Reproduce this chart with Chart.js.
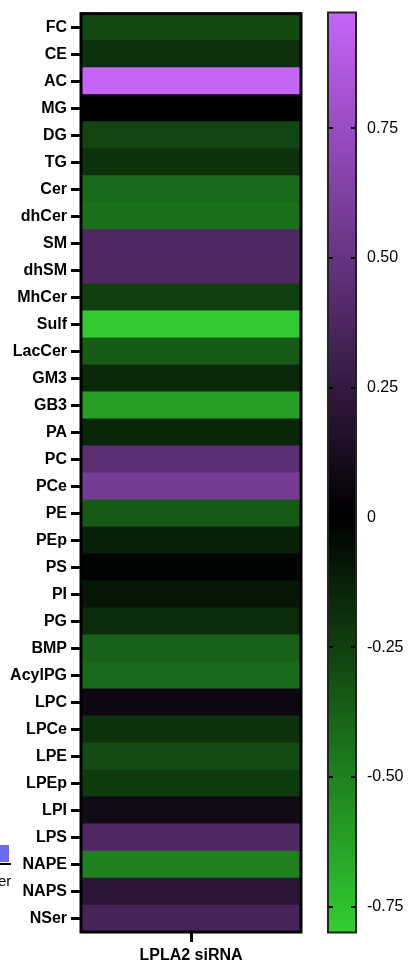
<!DOCTYPE html>
<html>
<head>
<meta charset="utf-8">
<script src="https://cdn.jsdelivr.net/npm/chart.js@4.4.1/dist/chart.umd.min.js"></script>
<style>
  html, body { margin: 0; padding: 0; background: #fff; }
  #wrap { position: relative; width: 411px; height: 961px; overflow: hidden; }
  canvas { position: absolute; top: 0; }
  #heat { left: 0; }
  #bar { left: 305px; }
  .art { position: absolute; font-family: "Liberation Sans", Arial, sans-serif; }
</style>
</head>
<body>
<div id="wrap">
  <canvas id="heat" width="305" height="961"></canvas>
  <canvas id="bar" width="106" height="961"></canvas>
  <div class="art" style="left:0;top:845px;width:9px;height:17px;background:#6b6bf2;"></div>
  <div class="art" style="left:0;top:863px;width:11px;height:2px;background:#000;"></div>
  <div class="art" style="left:-2px;top:872px;font-size:15px;color:#000;">er</div>
</div>
<script>
// ---- data ----
const rowLabels = ['FC','CE','AC','MG','DG','TG','Cer','dhCer','SM','dhSM','MhCer','Sulf','LacCer','GM3','GB3','PA','PC','PCe','PE','PEp','PS','PI','PG','BMP','AcylPG','LPC','LPCe','LPE','LPEp','LPI','LPS','NAPE','NAPS','NSer'];
const values = [-0.29,-0.19,0.97,0.0,-0.27,-0.20,-0.41,-0.44,0.39,0.39,-0.25,-0.79,-0.36,-0.16,-0.62,-0.15,0.45,0.58,-0.35,-0.13,-0.02,-0.09,-0.17,-0.38,-0.41,0.07,-0.20,-0.30,-0.23,0.095,0.39,-0.50,0.21,0.35];
const columnLabel = 'LPLA2 siRNA';
const colorMin = -0.80;
const colorMax = 0.973;
const colorTicks = [0.75, 0.50, 0.25, 0, -0.25, -0.50, -0.75];

const lowRGB = [50, 205, 50];
const highRGB = [198, 100, 250];
function colorFor(v) {
  let c, t;
  if (v < 0) { t = Math.min(1, v / colorMin); c = lowRGB; }
  else { t = Math.min(1, v / colorMax); c = highRGB; }
  return 'rgb(' + c.map(x => Math.round(x * t)).join(',') + ')';
}

const boldFont = { family: '"Liberation Sans", Arial, sans-serif', size: 16, weight: 'bold' };
const normFont = { family: '"Liberation Sans", Arial, sans-serif', size: 16, weight: 'normal' };

const framePlugin = {
  id: 'frame',
  afterDatasetsDraw(chart, args, opts) {
    const ca = chart.chartArea, ctx = chart.ctx;
    ctx.save();
    ctx.strokeStyle = opts.color || '#000';
    ctx.lineWidth = opts.width || 3;
    ctx.strokeRect(ca.left, ca.top, ca.right - ca.left, ca.bottom - ca.top);
    ctx.restore();
  }
};

new Chart(document.getElementById('heat'), {
  type: 'bar',
  data: {
    labels: rowLabels,
    datasets: [{
      data: values.map(() => [0, 1]),
      backgroundColor: values.map(colorFor),
      borderWidth: 0,
      barPercentage: 1,
      categoryPercentage: 1,
      borderSkipped: false
    }]
  },
  options: {
    indexAxis: 'y',
    responsive: false,
    animation: false,
    devicePixelRatio: 1,
    layout: { padding: { top: 12, left: 0, right: 4, bottom: 0 } },
    plugins: { legend: { display: false }, tooltip: { enabled: false }, frame: { color: '#000', width: 3 } },
    scales: {
      y: {
        type: 'category',
        grid: { offset: false, drawOnChartArea: false, tickLength: 10, tickWidth: 3, tickColor: '#000' },
        border: { display: false },
        ticks: { color: '#000', font: boldFont, padding: 4, autoSkip: false },
        afterFit(s) { s.width = 81; }
      },
      x: {
        type: 'linear',
        min: 0, max: 1,
        afterBuildTicks(s) { s.ticks = [{ value: 0.5 }]; },
        grid: { drawOnChartArea: false, tickLength: 10, tickWidth: 3, tickColor: '#000' },
        border: { display: false },
        ticks: { color: '#000', font: boldFont, padding: 4, maxRotation: 0, callback: () => columnLabel },
        afterFit(s) { s.height = 29; }
      }
    }
  },
  plugins: [framePlugin]
});

const innerTicks = {
  id: 'innerTicks',
  afterDatasetsDraw(chart) {
    const ca = chart.chartArea, ctx = chart.ctx, ys = chart.scales.y;
    ctx.save();
    ctx.strokeStyle = '#000';
    ctx.lineWidth = 2;
    colorTicks.forEach(v => {
      const y = Math.round(ys.getPixelForValue(v));
      ctx.beginPath();
      ctx.moveTo(ca.left, y); ctx.lineTo(ca.left + 5, y);
      ctx.moveTo(ca.right - 5, y); ctx.lineTo(ca.right, y);
      ctx.stroke();
    });
    ctx.restore();
  }
};

new Chart(document.getElementById('bar'), {
  type: 'bar',
  data: {
    labels: ['scale'],
    datasets: [{
      data: [[colorMin, colorMax]],
      borderWidth: 0,
      barPercentage: 1,
      categoryPercentage: 1,
      borderSkipped: false,
      backgroundColor(ctx) {
        const chart = ctx.chart;
        if (!chart.chartArea) return '#000';
        const ys = chart.scales.y;
        const y0 = ys.getPixelForValue(colorMin), y1 = ys.getPixelForValue(colorMax);
        const g = chart.ctx.createLinearGradient(0, y0, 0, y1);
        g.addColorStop(0, colorFor(colorMin));
        g.addColorStop((0 - colorMin) / (colorMax - colorMin), 'rgb(0,0,0)');
        g.addColorStop(1, colorFor(colorMax));
        return g;
      }
    }]
  },
  options: {
    responsive: false,
    animation: false,
    devicePixelRatio: 1,
    layout: { padding: { top: 12.5, left: 23, right: 0, bottom: 28.5 } },
    plugins: { legend: { display: false }, tooltip: { enabled: false }, frame: { color: '#222', width: 2 } },
    scales: {
      x: { display: false },
      y: {
        type: 'linear',
        position: 'right',
        min: colorMin, max: colorMax,
        afterBuildTicks(s) { s.ticks = colorTicks.map(v => ({ value: v })); },
        grid: { display: false, drawTicks: false },
        border: { display: false },
        ticks: { color: '#000', font: normFont, padding: 11, callback: v => (v === 0 ? '0' : v.toFixed(2)) },
        afterFit(s) { s.width = 55; s.paddingTop = 0; s.paddingBottom = 0; }
      }
    }
  },
  plugins: [innerTicks, framePlugin]
});
</script>
</body>
</html>
